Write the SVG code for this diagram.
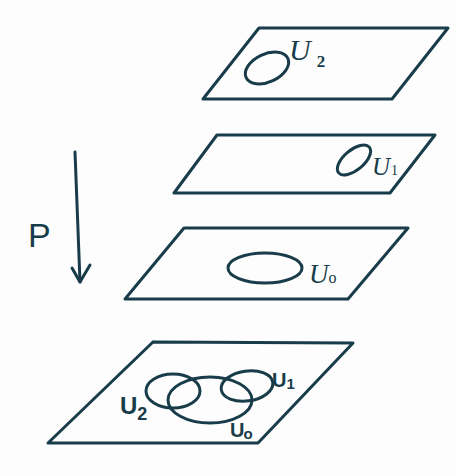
<svg xmlns="http://www.w3.org/2000/svg" width="456" height="476" viewBox="0 0 456 476">
<style>
.ln{fill:none;stroke:#183c4a;stroke-width:3;stroke-linejoin:round;stroke-linecap:round}
.lb{fill:#183c4a;font-family:"Liberation Serif",serif;font-style:italic}
.sb{fill:#183c4a;font-family:"Liberation Sans",sans-serif}
</style>
<rect width="456" height="476" fill="#fdfdfd"/>
<g id="plane-top">
<polygon class="ln" points="259,28 448,28 392,99 203,99"/>
<ellipse class="ln" cx="267" cy="68" rx="23" ry="14" transform="rotate(-25 267 68)"/>
<text class="lb" x="289" y="60" font-size="30">U<tspan font-size="17" dx="6" dy="7" font-style="normal" font-weight="bold">2</tspan></text>
</g>
<g id="plane-u1">
<polygon class="ln" points="217,135 435,135 390,193 174,193"/>
<ellipse class="ln" cx="354" cy="160" rx="20" ry="10" transform="rotate(-40 354 160)"/>
<text class="lb" x="372" y="175" font-size="25">U<tspan font-size="14" dx="1" dy="0" font-style="normal">1</tspan></text>
</g>
<g id="plane-u0">
<polygon class="ln" points="184,228 408,228 348,299 125,299"/>
<ellipse class="ln" cx="265" cy="268" rx="37" ry="15"/>
<text class="lb" x="309" y="283" font-size="27">U<tspan font-size="16" dx="0" dy="0" font-style="normal">o</tspan></text>
</g>
<g id="plane-base">
<polyline class="ln" points="153,342 353,343 258,443 48,443 153,342"/>
<ellipse class="ln" cx="173" cy="391" rx="27" ry="17"/>
<ellipse class="ln" cx="210" cy="400" rx="42" ry="23"/>
<ellipse class="ln" cx="247" cy="386" rx="26" ry="15" transform="rotate(-8 247 386)"/>
<text class="sb" x="120" y="414" font-size="24" font-weight="bold">U<tspan font-size="18" dx="0" dy="6">2</tspan></text>
<text class="sb" x="272" y="387" font-size="20" font-weight="bold">U<tspan font-size="15" dx="0" dy="2">1</tspan></text>
<text class="sb" x="230" y="437" font-size="20" font-weight="bold">U<tspan font-size="15" dx="-1" dy="2">o</tspan></text>
</g>
<g id="connectors">
<line class="ln" x1="75" y1="152" x2="80" y2="282"/>
<polyline class="ln" points="72,268 80,282 90,265"/>
<text class="sb" x="28" y="247" font-size="34">P</text>
</g>
</svg>
